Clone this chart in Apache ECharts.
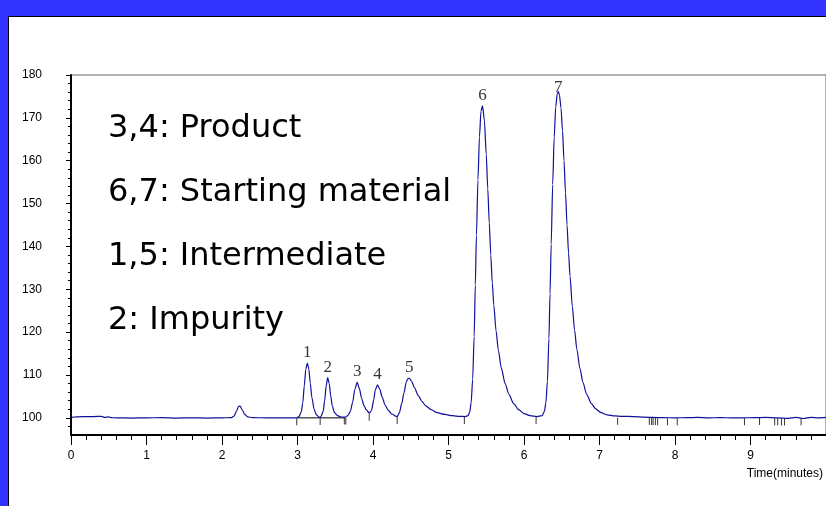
<!DOCTYPE html>
<html>
<head>
<meta charset="utf-8">
<script src="https://cdn.jsdelivr.net/npm/echarts@6/dist/echarts.min.js"></script>
<style>
html,body{margin:0;padding:0;background:#3333ff;width:826px;height:506px;overflow:hidden;}
#paper{position:absolute;left:8px;top:16px;right:0;bottom:0;background:#fff;border-top:1px solid #000;border-left:1px solid #000;}
#chart{position:absolute;left:0;top:0;width:826px;height:506px;}
</style>
</head>
<body>
<div id="paper"></div>
<div id="chart"></div>
<script>
// ---- data ----
const times = [
  0.00,0.05,0.10,0.20,0.30,0.40,0.45,0.50,0.53,0.60,0.80,1.00,1.20,1.40,1.60,1.80,2.00,
  2.12,2.16,2.19,2.22,2.24,2.27,2.30,2.34,2.40,2.60,2.80,2.98,
  3.02,3.05,3.07,3.09,3.11,3.13,3.15,3.17,3.19,3.22,3.25,3.29,
  3.31,3.34,3.36,3.38,3.40,3.42,3.44,3.46,3.49,3.53,3.58,3.64,
  3.67,3.70,3.73,3.76,3.79,3.82,3.85,3.88,3.91,3.95,
  3.98,4.01,4.03,4.06,4.09,4.12,4.16,4.20,4.25,4.30,4.32,
  4.35,4.38,4.41,4.44,4.46,4.48,4.51,4.55,4.60,4.65,4.70,4.77,4.85,4.95,5.05,5.15,5.22,
  5.26,5.28,5.30,5.32,5.34,5.355,5.37,5.39,5.41,5.43,5.45,5.475,5.50,5.52,5.54,5.56,5.58,5.60,5.63,5.66,5.70,5.75,5.80,5.86,5.93,6.00,6.08,6.17,
  6.24,6.27,6.29,6.31,6.33,6.345,6.36,6.38,6.40,6.42,6.44,6.455,6.47,6.49,6.51,6.53,6.55,6.57,6.59,6.61,6.64,6.67,6.70,6.74,6.78,6.83,6.89,6.95,7.02,7.10,
  7.20,7.30,7.45,7.60,7.70,7.85,8.00,8.15,8.30,8.45,8.60,8.75,8.90,9.05,9.20,9.35,9.50,9.60,9.70,9.80,9.90,10.00
];
const signal = [
  100.10,100.20,100.25,100.30,100.30,100.35,100.10,100.25,100.05,100.00,99.95,100.00,100.05,99.95,100.00,99.95,100.00,
  100.05,100.40,101.50,102.70,102.75,101.80,100.80,100.25,100.05,100.00,100.00,100.00,
  100.30,101.40,103.50,107.50,111.30,112.80,111.40,108.00,104.80,102.00,100.70,100.10,
  100.30,101.50,104.00,107.50,109.40,108.00,105.20,102.80,101.20,100.50,100.20,100.20,
  100.60,101.50,103.60,106.70,108.30,106.80,104.50,102.90,101.90,101.10,
  101.70,104.20,106.50,107.70,106.70,104.90,103.00,101.80,100.90,100.40,100.30,
  101.20,103.30,105.80,108.30,109.10,109.25,108.60,107.00,105.20,103.80,102.80,101.90,101.20,100.80,100.50,100.35,100.30,
  100.50,101.30,103.50,109.00,119.00,131.00,142.50,155.50,165.50,171.50,172.80,169.50,161.50,153.50,145.50,138.00,131.50,126.30,120.30,115.80,111.60,108.00,105.50,103.40,101.90,101.00,100.50,100.30,
  100.50,101.50,103.50,108.50,118.50,129.00,140.50,154.50,165.50,172.50,175.60,176.10,175.30,172.30,167.00,160.00,152.50,145.00,138.50,133.00,126.00,120.50,116.00,111.60,108.30,105.50,103.40,102.10,101.20,100.70,
  100.45,100.35,100.30,100.15,100.10,100.05,100.00,100.05,100.10,100.00,100.05,100.00,100.00,100.05,100.10,100.00,99.90,100.10,99.85,100.10,100.00,100.10
];
const peakNames = ['1','2','3','4','5','6','7'];
const peakTimes = [3.13, 3.40, 3.79, 4.06, 4.48, 5.45, 6.455];
const peakHeights = [112.8, 109.4, 108.3, 107.7, 109.25, 172.8, 176.1];
const eventTimes = [2.99, 3.30, 3.62, 3.64, 3.95, 4.32, 5.21, 6.16, 7.24, 7.66, 7.69, 7.71, 7.74, 7.77, 7.90, 8.03, 8.92, 9.12, 9.32, 9.36, 9.41, 9.45, 9.67];
const eventValues = [100.0, 100.1, 100.2, 100.2, 101.1, 100.3, 100.3, 100.3, 100.15, 100.15, 100.1, 100.1, 100.1, 100.05, 100.0, 100.0, 100.0, 100.1, 100.05, 100.05, 99.95, 99.95, 100.0];
const segTimes = [2.99, 3.63];
const segValues = [100.0, 100.0];
const notes = ['3,4: Product', '6,7: Starting material', '1,5: Intermediate', '2: Impurity'];
const xTickLabels = [0,1,2,3,4,5,6,7,8,9];
const yTickLabels = [100,110,120,130,140,150,160,170,180];
const xAxisName = 'Time(minutes)';

// ---- chart ----
const yMinor = [];
for (let v = 98; v < 180; v += 2) if (v % 10 !== 0) yMinor.push(v);

const chart = echarts.init(document.getElementById('chart'), null, {renderer:'canvas'});
const sans = 'Liberation Sans, Arial, sans-serif';
const option = {
  backgroundColor: 'transparent',
  animation: false,
  grid: {left: 71, top: 75, right: -1, bottom: 71, show: true, borderColor: '#666', borderWidth: 1, backgroundColor: 'transparent'},
  xAxis: [{
    type: 'value', min: 0, max: 10, interval: 1,
    axisLine: {show: true, onZero: false, lineStyle: {color: '#000', width: 2}},
    axisTick: {show: true, length: 10, lineStyle: {color: '#000', width: 1}},
    minorTick: {show: true, splitNumber: 5, length: 5, lineStyle: {color: '#000', width: 1}},
    axisLabel: {customValues: xTickLabels, color: '#000', fontSize: 12, fontFamily: sans, margin: 15},
    splitLine: {show: false}
  }],
  yAxis: [{
    type: 'value', min: 96, max: 180,
    axisLine: {show: true, onZero: false, lineStyle: {color: '#000', width: 2}},
    axisTick: {show: true, length: 5, customValues: yTickLabels, lineStyle: {color: '#000'}},
    axisLabel: {customValues: yTickLabels, color: '#000', fontSize: 12, fontFamily: sans, margin: 29},
    splitLine: {show: false}
  }, {
    type: 'value', min: 96, max: 180, position: 'left',
    axisLine: {show: false},
    axisTick: {show: true, length: 3, customValues: yMinor, lineStyle: {color: '#000'}},
    axisLabel: {show: false},
    splitLine: {show: false}
  }],
  series: [{
    type: 'line',
    data: times.map((t, i) => [t, signal[i]]),
    showSymbol: false,
    smooth: 0.25,
    smoothMonotone: 'x',
    lineStyle: {color: '#10109a', width: 1.2},
    z: 3
  }, {
    type: 'line',
    data: segTimes.map((t, i) => [t, segValues[i]]),
    showSymbol: false,
    lineStyle: {color: '#000', width: 1},
    z: 2
  }, {
    type: 'scatter',
    data: eventTimes.map((t, i) => [t, eventValues[i]]),
    symbol: 'rect',
    symbolSize: [1, 7],
    symbolOffset: [0, 4],
    itemStyle: {color: '#000'},
    z: 2
  }, {
    type: 'scatter',
    data: peakTimes.map((t, i) => ({
      value: [t, peakHeights[i]], name: peakNames[i],
      label: i === 6 ? {offset: [0, 6]} : {}
    })),
    symbolSize: 0,
    label: {show: true, position: 'top', distance: 2, formatter: p => p.name,
      color: '#000', fontSize: 17, fontFamily: 'Liberation Serif, Times New Roman, serif'},
    z: 4
  }],
  graphic: notes.map((s, i) => ({
    type: 'text', left: 108, top: 113 + i * 64,
    style: {text: s, fill: '#000', fontSize: 32, fontFamily: 'DejaVu Sans, sans-serif'}
  })).concat([{
    type: 'text', right: 3, top: 468,
    style: {text: xAxisName, fill: '#000', fontSize: 12, fontFamily: sans}
  }])
};
chart.setOption(option);
</script>
</body>
</html>
